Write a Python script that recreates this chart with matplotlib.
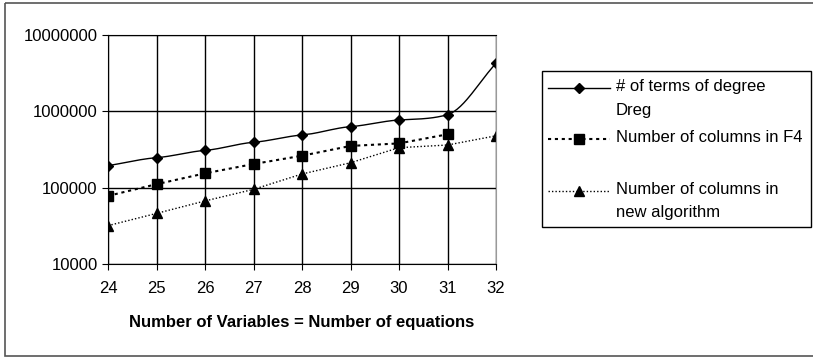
import numpy as np
import matplotlib.pyplot as plt
import matplotlib.lines as mlines
import matplotlib.transforms as mtransforms
from matplotlib.patches import Rectangle

plt.rcParams['font.family'] = ['Liberation Sans', 'DejaVu Sans']

n_vars = [24, 25, 26, 27, 28, 29, 30, 31, 32]
terms_dreg = [194000, 247000, 308000, 393000, 490000, 630000, 770000, 905000, 4250000]
cols_f4 = [78000, 111000, 154000, 204000, 262000, 352000, 380000, 500000]
cols_new = [31800, 46000, 67000, 95000, 151000, 212000, 334000, 362000, 478000]

labels = [["# of terms of degree", "Dreg"],
          ["Number of columns in F4"],
          ["Number of columns in", "new algorithm"]]


def smooth(x, y, tension=0.5, steps=30):
    # cardinal spline through the points in log space (smoothed line)
    x = np.asarray(x, float)
    y = np.log10(y)
    m = np.zeros_like(y)
    m[1:-1] = tension * (y[2:] - y[:-2]) / (x[2:] - x[:-2])
    m[0] = y[1] - y[0]
    m[-1] = y[-1] - y[-2]
    xs, ys = [], []
    for i in range(len(x) - 1):
        h = x[i + 1] - x[i]
        t = np.linspace(0, 1, steps, endpoint=False)
        h00 = 2 * t ** 3 - 3 * t ** 2 + 1
        h10 = t ** 3 - 2 * t ** 2 + t
        h01 = -2 * t ** 3 + 3 * t ** 2
        h11 = t ** 3 - t ** 2
        xs.extend(x[i] + t * h)
        ys.extend(h00 * y[i] + h10 * h * m[i] + h01 * y[i + 1] + h11 * h * m[i + 1])
    xs.append(x[-1])
    ys.append(y[-1])
    return np.array(xs), 10 ** np.array(ys)


W, H = 813, 357
fig = plt.figure(figsize=(W / 100, H / 100), dpi=100)
ax = fig.add_axes([108 / W, 1 - 264 / H, 388 / W, 229 / H])

sx, sy = smooth(n_vars, terms_dreg)
ax.plot(sx, sy, color='black', lw=1)
ax.plot(n_vars, terms_dreg, color='black', ls='none', marker='D', ms=5.5)
ax.plot(n_vars[:len(cols_f4)], cols_f4, color='black', lw=1.5,
        ls=(0, (1.5, 1.8)), marker='s', ms=6.5)
ax.plot(n_vars, cols_new, color='black', lw=1,
        ls=(0, (1, 1.5)), marker='^', ms=7.5)

ax.set_yscale('log')
ax.set_ylim(1e4, 1e7)
ax.set_xlim(24, 32)
ax.set_xticks(n_vars)
ax.set_yticks([1e4, 1e5, 1e6, 1e7])
ax.set_yticklabels(['10000', '100000', '1000000', '10000000'])
ax.minorticks_off()
ax.grid(True, color='black', lw=1)
ax.tick_params(labelsize=12, length=4, direction='out', color='black')
ax.tick_params(axis='x', pad=8)
for s in ax.spines.values():
    s.set_color('black')
ax.spines['right'].set_color('#999999')

ax.set_xlabel("Number of Variables = Number of equations", fontsize=12,
              fontweight='bold', labelpad=14)

# legend, laid out by hand in pixel coordinates (origin top-left)
px = mtransforms.Affine2D().scale(1 / W, -1 / H).translate(0, 1) + fig.transFigure
fig.add_artist(Rectangle((542, 71), 269, 156, transform=px, fill=False,
                         edgecolor='black', lw=1))
handles = [dict(lw=1, ls='-', marker='D', ms=5.5),
           dict(lw=1.5, ls=(0, (1.5, 1.8)), marker='s', ms=6.5),
           dict(lw=1, ls=(0, (1, 1.5)), marker='^', ms=7.5)]
handle_y = [88, 139, 191]
line_pitch = [24, 0, 22]
for hy, style, lab, pitch in zip(handle_y, handles, labels, line_pitch):
    fig.add_artist(mlines.Line2D([548, 610], [hy, hy], color='black',
                                 lw=style['lw'], ls=style['ls'], transform=px))
    fig.add_artist(mlines.Line2D([579], [hy], color='black', ls='none',
                                 marker=style['marker'], ms=style['ms'], transform=px))
    for k, txt in enumerate(lab):
        fig.text(616, hy - 1 + k * pitch, txt, transform=px, fontsize=12,
                 ha='left', va='center')

fig.add_artist(Rectangle((5, 3), 900, 353, transform=px, fill=False,
                         edgecolor='#555555', lw=1.2))

fig.savefig('out.png', dpi=100)
